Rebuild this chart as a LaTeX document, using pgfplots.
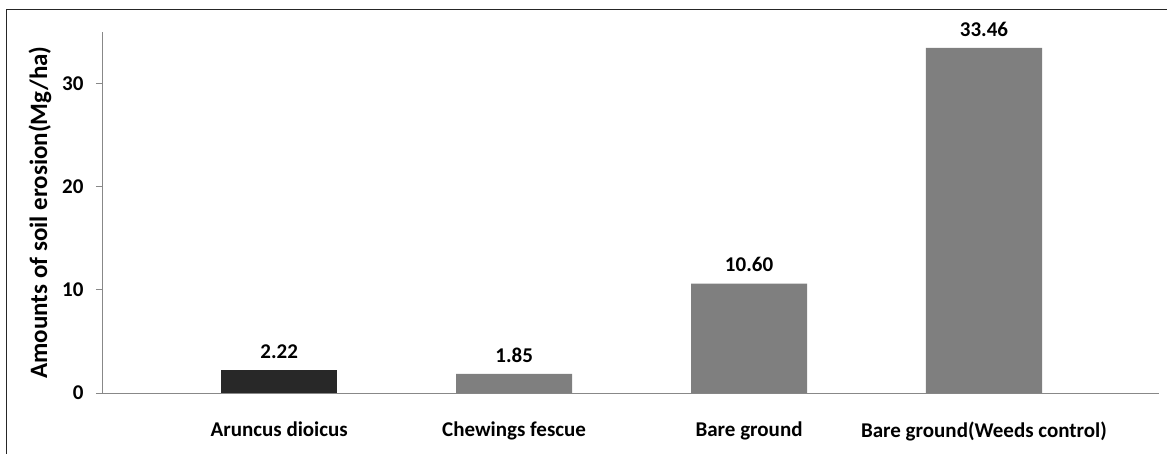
\documentclass[border=0pt]{standalone}
\usepackage{fontspec}
\setmainfont{Carlito}
\usepackage{pgfplots}
\pgfplotsset{compat=1.18}

\definecolor{barDark}{HTML}{282828}
\definecolor{barGray}{HTML}{7F7F7F}
\definecolor{axisGray}{HTML}{888888}

\begin{document}
\begin{tikzpicture}
% page area and the outer chart frame
\path[use as bounding box] (-103bp,-61bp) rectangle (1064bp,393bp);
\draw[black!85, line width=0.8bp] (-97bp,-61bp) -- (-97bp,384bp) -- (1064bp,384bp);

\begin{axis}[
  at={(0,0)}, anchor=south west,
  scale only axis,
  width=1056bp, height=361bp,
  ybar,
  xmin=-0.75, xmax=3.745,
  ymin=0, ymax=35,
  axis x line*=bottom,
  axis y line*=left,
  axis line style={draw=axisGray, line width=1bp, -},
  xtick={0,1,2,3},
  xticklabels={Aruncus dioicus, Chewings fescue, Bare ground, Bare ground(Weeds control)},
  x tick style={draw=none},
  ytick={0,10,20,30},
  y tick style={draw=axisGray, line width=1bp},
  tick align=outside,
  major tick length=7bp,
  /pgf/number format/assume math mode=true,
  ticklabel style={font=\fontsize{21bp}{25bp}\selectfont\bfseries},
  xticklabel style={yshift=-18bp},
  yticklabel style={xshift=-9bp},
  ylabel={Amounts of soil erosion(Mg/ha)},
  every axis y label/.style={at={(axis description cs:-0.0597,0.5)}, rotate=90, anchor=center,
    font=\fontsize{25bp}{30bp}\selectfont\bfseries},
  bar width=0.494,
  nodes near coords={\pgfmathprintnumber[fixed,fixed zerofill,precision=2]{\pgfplotspointmeta}},
  every node near coord/.append style={font=\fontsize{21bp}{25bp}\selectfont\bfseries, text=black, yshift=8bp,
    /pgf/number format/assume math mode=true},
  clip=false,
]
\addplot[fill=barDark, draw=none, bar shift=0pt] coordinates {(0,2.22)};
\addplot[fill=barGray, draw=none, bar shift=0pt] coordinates {(1,1.85) (2,10.60) (3,33.46)};
\end{axis}
\end{tikzpicture}
\end{document}
